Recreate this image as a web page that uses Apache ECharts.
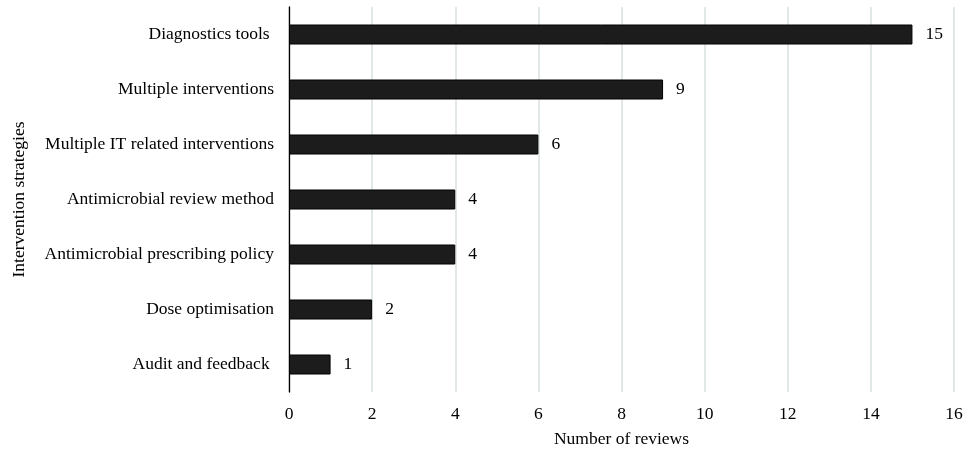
<!DOCTYPE html>
<html>
<head>
<meta charset="utf-8">
<script src="https://cdn.jsdelivr.net/npm/echarts@6/dist/echarts.min.js"></script>
<style>
  html, body { margin: 0; padding: 0; background: #fff; }
  #chart { width: 967px; height: 453px; }
</style>
</head>
<body>
<div id="chart"></div>
<script>
  // bottom to top, as the category axis draws them
  var categories = [
    'Audit and feedback ',
    'Dose optimisation',
    'Antimicrobial prescribing policy',
    'Antimicrobial review method',
    'Multiple IT related interventions',
    'Multiple interventions',
    'Diagnostics tools '
  ]
  var reviews = [1, 2, 4, 4, 6, 9, 15]

  var font = '"Liberation Serif", "Times New Roman", serif'
  var chart = echarts.init(document.getElementById('chart'))
  chart.setOption({
    animation: false,
    textStyle: { fontFamily: font },
    grid: {
      left: 289,
      right: 13,
      top: 7,
      bottom: 58,
      containLabel: false
    },
    xAxis: {
      type: 'value',
      min: 0,
      max: 16,
      interval: 2,
      name: 'Number of reviews',
      nameLocation: 'middle',
      nameGap: 38,
      nameTextStyle: { fontFamily: font, fontSize: 17.5, color: '#000' },
      axisLine: { show: false },
      axisTick: { show: false },
      axisLabel: { fontFamily: font, fontSize: 17.5, color: '#000', margin: 13 },
      splitLine: { lineStyle: { color: '#d9dfe0', width: 1.5 } }
    },
    yAxis: {
      type: 'category',
      data: categories,
      name: 'Intervention strategies',
      nameLocation: 'middle',
      nameGap: 261,
      nameRotate: 90,
      nameTextStyle: { fontFamily: font, fontSize: 17.5, color: '#000' },
      axisLine: { lineStyle: { color: '#000', width: 1.3 } },
      axisTick: { show: false },
      axisLabel: { fontFamily: font, fontSize: 17.5, color: '#000', margin: 15 }
    },
    series: [{
      type: 'bar',
      data: reviews,
      barWidth: 20,
      itemStyle: { color: '#1c1c1c', borderColor: '#000', borderWidth: 1 },
      label: {
        show: true,
        position: 'right',
        distance: 13,
        fontFamily: font,
        fontSize: 17.5,
        color: '#000'
      }
    }]
  })
</script>
</body>
</html>
